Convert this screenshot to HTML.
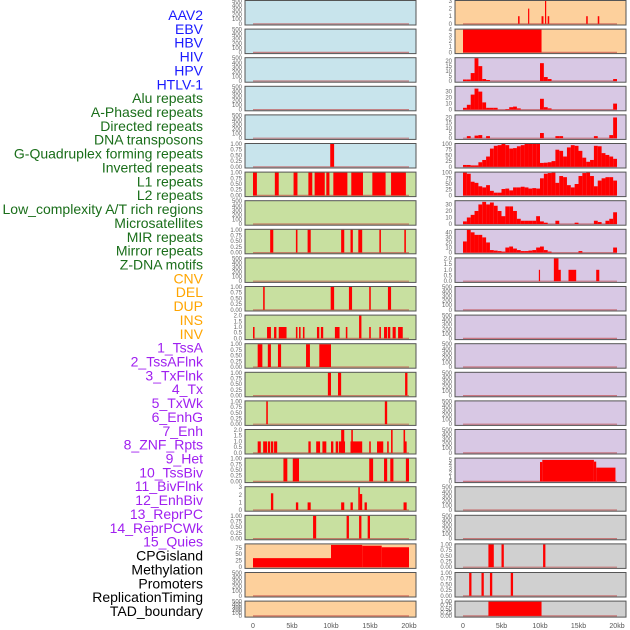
<!DOCTYPE html>
<html><head><meta charset="utf-8">
<style>
html,body{margin:0;padding:0;background:#fff;width:630px;height:630px;overflow:hidden}
svg{display:block;font-family:"Liberation Sans",sans-serif}
</style></head>
<body>
<svg id="chart" width="630" height="630" viewBox="0 0 630 630" xmlns="http://www.w3.org/2000/svg"></svg>
<script>
// ---- labels ----
const labelNames = ["AAV2","EBV","HBV","HIV","HPV","HTLV-1","Alu repeats","A-Phased repeats","Directed repeats","DNA transposons","G-Quadruplex forming repeats","Inverted repeats","L1 repeats","L2 repeats","Low_complexity A/T rich regions","Microsatellites","MIR repeats","Mirror repeats","Z-DNA motifs","CNV","DEL","DUP","INS","INV","1_TssA","2_TssAFlnk","3_TxFlnk","4_Tx","5_TxWk","6_EnhG","7_Enh","8_ZNF_Rpts","9_Het","10_TssBiv","11_BivFlnk","12_EnhBiv","13_ReprPC","14_ReprPCWk","15_Quies","CPGisland","Methylation","Promoters","ReplicationTiming","TAD_boundary"];
const labelGroups = [6,13,5,15,5];
const groupColors = ["#1a1aff","#1a6e1a","#ffa500","#a020f0","#000000"];
const xTickKb = [0,5,10,15,20];
const xTickLabels = ["0","5kb","10kb","15kb","20kb"];

// ---- left column data ([startKb,endKb,value]) ----
const L5 = [[9.9,10.4,1]];
const L6 = [[0,0.5,1],[2.8,3.3,1],[5.2,5.7,1],[7.1,7.6,1],[7.9,9.2,1],[9.4,9.8,1],[10.3,12.1,1],[12.6,14.1,1],[15.3,17.0,1],[17.7,19.6,1]];
const L8 = [[2.2,2.6,1],[5.5,5.7,1],[7.0,7.4,1],[11.3,11.7,1],[12.5,12.8,1],[13.5,14.0,1],[16.2,16.4,1],[19.4,19.6,1]];
const L10 = [[1.3,1.5,1],[9.96,10.4,1],[12.3,12.7,1],[14.9,15.1,1],[17.3,17.7,1]];
const L11 = [[0,0.2,1],[1.8,2.3,1],[2.7,3.0,1],[3.3,4.3,1],[5.5,5.7,1],[5.9,6.1,1],[6.4,6.6,1],[8.2,8.5,1],[8.7,9.0,1],[10.5,11.1,1],[11.9,12.1,1],[13.6,13.9,2],[14.9,15.1,1],[16.2,16.4,1],[16.8,17.2,1],[17.3,17.6,1],[17.9,18.3,1],[18.6,19.2,1]];
const L12 = [[0.6,1.2,1],[1.9,2.3,1],[3.2,3.6,1],[6.8,7.3,1],[8.5,10.0,1]];
const L13 = [[9.6,10.0,1],[10.9,11.3,1],[19.5,19.8,1]];
const L14 = [[1.7,1.9,1],[16.9,17.2,1]];
const L15 = [[0.6,1.0,1],[1.3,1.8,1],[1.9,2.2,1],[2.3,2.6,1],[2.7,3.1,1],[7.1,7.4,1],[8.1,8.6,1],[8.9,9.4,1],[10.0,10.3,1],[10.6,10.9,1],[11.0,11.8,1],[12.5,14.0,1],[14.9,15.1,1],[15.9,16.7,1],[17.2,17.4,1],[19.3,19.7,1],[11.3,11.7,2],[12.6,12.8,2],[17.7,17.9,2],[19.3,19.5,2]];
const L16 = [[3.9,4.4,1],[5.1,5.9,1],[14.9,15.4,1],[16.8,17.2,1],[17.6,18.0,1],[19.6,20.0,1]];
const L17 = [[2.3,2.6,2.2],[5.5,5.8,1],[7.0,7.4,1],[11.3,11.7,1],[12.5,12.8,1],[13.5,13.7,3],[13.7,14.0,2.1],[14.3,14.6,1],[19.3,19.7,1]];
const L18 = [[7.7,8.1,1],[12.0,12.3,1],[13.6,13.9,1],[14.7,15.0,1]];
const L19 = [[0,10,35],[10,14,86],[14,16.5,83],[16.5,20,77]];

// ---- right column data ----
const R0 = [[7.15,7.35,1],[8.45,8.6,2],[10.2,10.45,1],[10.65,10.8,3],[11.0,11.2,1],[16.0,16.2,1],[17.5,17.7,1]];
const R1 = [[0,10.2,4]];
const R2bins = [1.5,1.5,8,23,15,2,1,0,0,0,0,0,0,0,0,0,0,0,0,0,18,4,2,0,0,0,0,0,0,0,0,0,0,0,0,0,0,0,0,2];
const R3bins = [3,8,25,35,30,12,3,3,3,0,0,1,4,5,2,0,0,0,0,0,18,4,2,0,0,0,0,0,0,0,0,0,0,0,0,0,0,0,0,10];
const R4bins = [0,2,0,2.5,3,0,2,0,0,0,0,0,0,0,0,0,0,0,0,0,5,0,0,0,2,2,0,0,0,0,0,0,0,0,2,0,0,0,3,20];
const R5bins = [8,8,6,6,20,30,45,80,92,95,100,95,80,82,90,95,100,100,100,100,17,18,20,25,75,70,45,85,95,92,70,40,22,30,92,90,60,52,45,35];
const R6bins = [100,95,60,55,40,35,45,20,12,12,28,30,22,35,35,38,35,30,32,30,75,95,98,100,55,85,80,45,35,50,85,98,100,85,40,65,75,80,80,65];
const R7bins = [4,10,14,20,30,34,30,33,28,20,12,27,27,20,8,5,5,5,5,12,4,2,0,0,5,0,0,0,0,2,0,0,0,0,5,3,0,5,8,18];
const R8bins = [22,45,40,35,35,30,20,5,4,3,2,10,12,8,5,3,3,4,5,10,12,5,2,0,0,0,0,0,0,0,3,0,0,0,0,0,0,0,0,10];
const R9 = [[9.85,10.0,1],[11.8,12.4,2],[12.4,12.7,1],[13.7,14.7,1],[17.3,17.7,1]];
const R16 = [[10,10.3,4.5],[10.3,17,5],[17,17.3,4.6],[17.3,19.8,3.2]];
const R19 = [[3.3,4.0,1],[5.0,5.3,1],[10.4,10.7,1]];
const R20 = [[0.8,1.1,1],[2.4,2.7,1],[3.5,3.8,1],[6.2,6.5,1]];
const R21 = [[3.3,10.2,1]];

const T500 = ["0","100","200","300","400","500"], T1 = ["0.00","0.25","0.50","0.75","1.00"], T2 = ["0.0","0.5","1.0","1.5","2.0"];
const BLUE="#c8e4ec", GREEN="#c8e0a0", ORANGE="#fdd09c", PURPLE="#d8c8e4", GRAY="#d0d0d0";
function E(bg){return {bg:bg,ymax:500,ticks:T500,tv:[0,100,200,300,400,500],bars:[]};}
function B(bg,bars,ymax,ticks,tv){return {bg:bg,ymax:ymax,ticks:ticks,tv:tv,bars:bars};}
const tv1=[0,0.25,0.5,0.75,1], tv2=[0,0.5,1,1.5,2];
function bins(a){return a.map((v,i)=>[i*0.5,(i+1)*0.5,v]);}
const left = [E(BLUE),E(BLUE),E(BLUE),E(BLUE),E(BLUE),B(BLUE,L5,1,T1,tv1),
 B(GREEN,L6,1,T1,tv1),E(GREEN),B(GREEN,L8,1,T1,tv1),E(GREEN),B(GREEN,L10,1,T1,tv1),B(GREEN,L11,2,T2,tv2),
 B(GREEN,L12,1,T1,tv1),B(GREEN,L13,1,T1,tv1),B(GREEN,L14,1,T1,tv1),B(GREEN,L15,2,T2,tv2),B(GREEN,L16,1,T1,tv1),
 B(GREEN,L17,3,["0","1","2","3"],[0,1,2,3]),B(GREEN,L18,1,T1,tv1),B(ORANGE,L19,88,["0","25","50","75"],[0,25,50,75]),E(ORANGE),E(ORANGE)];
const right = [B(ORANGE,R0,3,["0","1","2","3"],[0,1,2,3]),B(ORANGE,R1,4,["0","1","2","3","4"],[0,1,2,3,4]),
 B(PURPLE,bins(R2bins),23,["0","5","10","15","20"],[0,5,10,15,20]),
 B(PURPLE,bins(R3bins),38,["0","10","20","30"],[0,10,20,30]),
 B(PURPLE,bins(R4bins),22,["0","5","10","15","20"],[0,5,10,15,20]),
 B(PURPLE,bins(R5bins),100,["0","25","50","75","100"],[0,25,50,75,100]),
 B(PURPLE,bins(R6bins),100,["0","25","50","75","100"],[0,25,50,75,100]),
 B(PURPLE,bins(R7bins),35,["0","10","20","30"],[0,10,20,30]),
 B(PURPLE,bins(R8bins),45,["0","10","20","30","40"],[0,10,20,30,40]),
 B(PURPLE,R9,2,T2,tv2),E(PURPLE),E(PURPLE),E(PURPLE),E(PURPLE),E(PURPLE),E(PURPLE),
 B(PURPLE,R16,5.3,["0","1","2","3","4","5"],[0,1,2,3,4,5]),E(GRAY),E(GRAY),
 B(GRAY,R19,1,T1,tv1),B(GRAY,R20,1,T1,tv1),B(GRAY,R21,1,T1,tv1)];

const svg = document.getElementById('chart');
const NS = "http://www.w3.org/2000/svg";
function mk(tag, attrs, parent){const e=document.createElementNS(NS,tag);for(const k in attrs)e.setAttribute(k,attrs[k]);(parent||svg).appendChild(e);return e;}

// labels
let li=0;
labelGroups.forEach((n,g)=>{for(let j=0;j<n;j++){
  const t=mk('text',{x:203,y:20+li*13.86,'text-anchor':'end','font-size':14,fill:groupColors[g]});
  t.textContent=labelNames[li];
  
  
  li++;}});

const cols=[{x0:245,w:171,k0:253,kpx:7.8,panels:left,name:'left'},{x0:455,w:171,k0:463,kpx:7.7,panels:right,name:'right'}];
cols.forEach(c=>{
  function xs(kb){return c.k0+kb*c.kpx;}
  c.panels.forEach((p,i)=>{
    const top=0.5+i*28.6, h=(i===21)?16:24.5, bot=top+h;
    const g=mk('g',{});
    
    
    mk('rect',{x:c.x0,y:top,width:c.w,height:h,fill:p.bg},g);
    const y0=bot-1.2, yTop=top+0.5;
    function ys(v){return y0-(v/p.ymax)*(y0-yTop);}
    mk('line',{x1:xs(0),x2:xs(20),y1:y0,y2:y0,stroke:'#c04040','stroke-width':1.2,'stroke-opacity':0.6},g);
    p.bars.forEach(b=>{
      if(b[2]<=0)return;
      const r=mk('rect',{x:xs(b[0]),y:ys(b[2]),width:Math.max(1.2,xs(b[1])-xs(b[0])),height:y0-ys(b[2]),fill:'#ff0000'},g);
      
      
    });
    mk('rect',{x:c.x0,y:top,width:c.w,height:h,fill:'none',stroke:'#555','stroke-width':1},g);
    p.ticks.forEach((t,k)=>{
      const tt=mk('text',{x:c.x0-3,y:ys(p.tv[k])+2,'text-anchor':'end','font-size':6,fill:'#666'},g);
      tt.textContent=t;
    });
  });
  xTickKb.forEach((kb,k)=>{
    const t=mk('text',{x:xs(kb),y:628,'text-anchor':'middle','font-size':7,fill:'#555'});
    t.textContent=xTickLabels[k];
    
    
  });
});
</script>
</body></html>
